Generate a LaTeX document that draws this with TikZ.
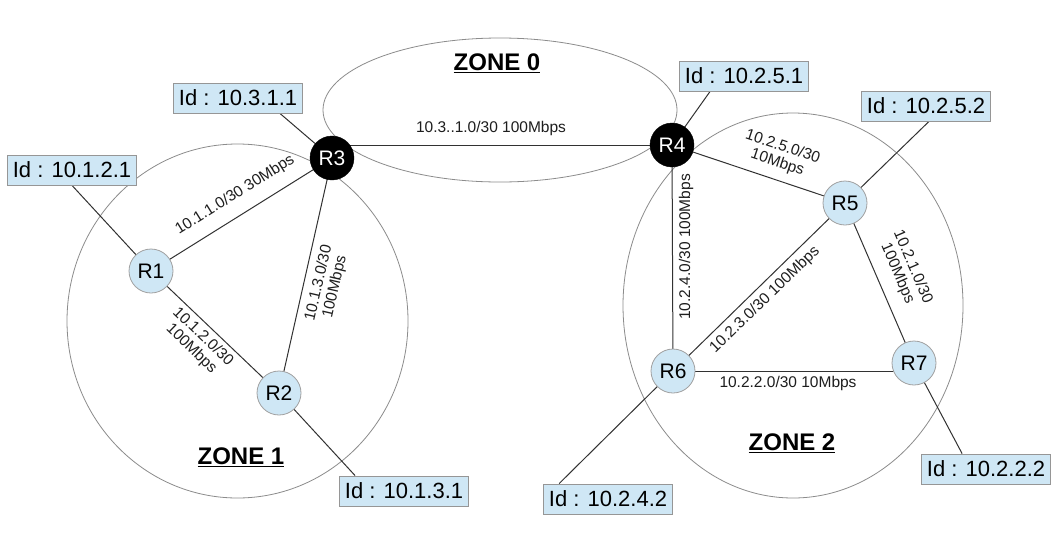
\documentclass[tikz,border=0pt]{standalone}
\usepackage{fontspec}
\setmainfont{Liberation Sans}
\definecolor{rfill}{RGB}{207,231,245}
\definecolor{rborder}{RGB}{160,160,160}
\definecolor{bborder}{RGB}{150,150,150}
\definecolor{zonegray}{RGB}{140,140,140}
\definecolor{linkgray}{RGB}{50,50,50}
\definecolor{lbltext}{RGB}{30,30,30}
\pgfdeclarelayer{bg}
\pgfsetlayers{bg,main}
\begin{document}
\begin{tikzpicture}[x=1pt,y=-1pt,
  zone/.style={draw=zonegray, line width=0.8pt},
  link/.style={draw=linkgray, line width=1pt},
  router/.style={circle, draw=rborder, fill=rfill, line width=0.8pt, minimum size=44pt, inner sep=0pt, font=\fontsize{21}{21}\selectfont},
  abr/.style={circle, fill=black, draw=black, text=white, minimum size=44pt, inner sep=0pt, font=\fontsize{21}{21}\selectfont},
  idbox/.style={draw=bborder, fill=rfill, line width=0.8pt, minimum width=129pt, minimum height=30pt, inner sep=0pt, font=\fontsize{22}{22}\selectfont},
  lbl/.style={font=\fontsize{15.5}{16.5}\selectfont, text=lbltext, align=center, inner sep=0pt},
  zonelbl/.style={font=\bfseries\fontsize{24}{24}\selectfont, inner sep=0pt}
]
\useasboundingbox (0,0) rectangle (1056,552);

% routers
\node[abr] (R3) at (332,158) {R3};
\node[abr] (R4) at (672,145) {R4};
\node[router] (R1) at (151,271) {R1};
\node[router] (R2) at (279,393) {R2};
\node[router] (R5) at (845,203) {R5};
\node[router] (R6) at (673,371) {R6};
\node[router] (R7) at (914,363) {R7};

% id boxes
\node[idbox] (id311) at (238,98) {Id : 10.3.1.1};
\node[idbox] (id121) at (72,170) {Id : 10.1.2.1};
\node[idbox] (id131) at (404,491) {Id : 10.1.3.1};
\node[idbox] (id251) at (744,76) {Id : 10.2.5.1};
\node[idbox] (id252) at (926,106) {Id : 10.2.5.2};
\node[idbox] (id242) at (608,499) {Id : 10.2.4.2};
\node[idbox] (id222) at (986,469) {Id : 10.2.2.2};

% zone labels
\node[zonelbl] (z0) at (497,63) {\underline{ZONE 0}};
\node[zonelbl] (z1) at (241,457) {\underline{ZONE 1}};
\node[zonelbl] (z2) at (792,443) {\underline{ZONE 2}};

% link labels
\node[lbl] (l34) at (491,128) {10.3..1.0/30 100Mbps};
\node[lbl, rotate=32] (l13) at (235,195) {10.1.1.0/30 30Mbps};
\node[lbl, rotate=77] (l23) at (327,285) {10.1.3.0/30\\100Mbps};
\node[lbl, rotate=-44] (l12) at (197,343) {10.1.2.0/30\\100Mbps};
\node[lbl, rotate=-18.5] (l45) at (780,155) {10.2.5.0/30\\10Mbps};
\node[lbl, rotate=90] (l46) at (686,247) {10.2.4.0/30 100Mbps};
\node[lbl, rotate=44] (l56) at (765,300) {10.2.3.0/30 100Mbps};
\node[lbl, rotate=-66.7] (l57) at (905,270) {10.2.1.0/30\\100Mbps};
\node[lbl] (l67) at (788,383) {10.2.2.0/30 10Mbps};

\begin{pgfonlayer}{bg}
  \fill[white] (0,0) rectangle (1056,552);
  % zones
  \draw[zone] (500,110) ellipse [x radius=177, y radius=72];
  \draw[zone] (237.5,321) ellipse [x radius=170.5, y radius=177];
  \draw[zone] (793,305.5) ellipse [x radius=170, y radius=192.5];
  % links
  \draw[link] (R4.center) -- (R4 -| R3.center);
  \draw[link] (R1.center) -- (R3.center);
  \draw[link] (R2.center) -- (R3.center);
  \draw[link] (R1.center) -- (R2.center);
  \draw[link] (R4.center) -- (R5.center);
  \draw[link] (R4.center) -- (R6.center);
  \draw[link] (R6.center) -- (R5.center);
  \draw[link] (R5.center) -- (R7.center);
  \draw[link] (R6.center) -- (R6 -| R7.center);
  % id connectors
  \draw[link] ([xshift=-23pt]id311.south east) -- (R3.center);
  \draw[link] (id121.south) -- (R1.center);
  \draw[link] ([xshift=16pt]id131.north west) -- (R2.center);
  \draw[link] ([xshift=31pt]id251.south west) -- (R4.center);
  \draw[link] ([xshift=3pt]id252.south) -- (R5.center);
  \draw[link] ([xshift=16pt]id242.north west) -- (R6.center);
  \draw[link] ([xshift=41pt]id222.north west) -- (R7.center);
\end{pgfonlayer}
\end{tikzpicture}
\end{document}
